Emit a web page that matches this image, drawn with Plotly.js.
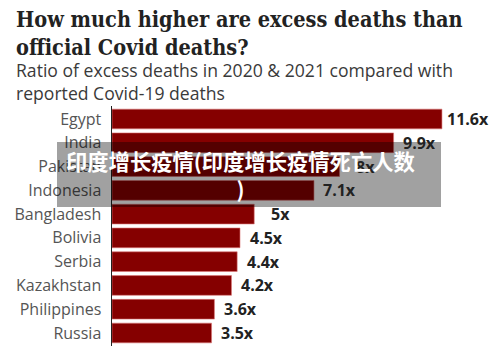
<!DOCTYPE html>
<html><head><meta charset="utf-8">
<script src="https://cdn.plot.ly/plotly-3.0.1.min.js"></script>
<style>html,body{margin:0;padding:0;background:#fff}#chart{width:500px;height:349px}</style>
</head><body><div id="chart"></div>
<script>
const countries = ["Egypt","India","Pakistan","Indonesia","Bangladesh","Bolivia","Serbia","Kazakhstan","Philippines","Russia"];
const ratios = [11.6, 9.9, 8, 7.1, 5, 4.5, 4.4, 4.2, 3.6, 3.5];
const ratioLabels = ["11.6x","9.9x","8x","7.1x","5x","4.5x","4.4x","4.2x","3.6x","3.5x"];
const titleText = "How much higher are excess deaths than<br>official Covid deaths?";
const subtitleText = "Ratio of excess deaths in 2020 & 2021 compared with<br>reported Covid-19 deaths";
const overlayText = "印度增长疫情(印度增长疫情死亡人数<br>)";

const W = 500, H = 349, L = 112, R = 4, T = 106, B = 3;
const pw = W - L - R, ph = H - T - B;
const px = x => (x - L) / pw;
const py = y => (H - B - y) / ph;

const labelAnn = countries.map((c, i) => ({
  x: ratios[i], y: c, xref: 'x', yref: 'y', text: ratioLabels[i], showarrow: false,
  xanchor: 'center', xshift: 26,
  font: {family: 'Open Sans, sans-serif', size: 16, color: '#222', weight: 700}
}));

const data = [{
  type: 'bar', orientation: 'h', x: ratios, y: countries,
  marker: {color: '#850000', line: {color: 'rgba(220,120,120,0.6)', width: 1}},
  hoverinfo: 'none'
}];

const layout = {
  width: W, height: H,
  margin: {l: L, r: R, t: T, b: B, pad: 0},
  paper_bgcolor: '#fff', plot_bgcolor: '#fff',
  showlegend: false, bargap: 0.17,
  xaxis: {range: [0, 13.5], showgrid: false, zeroline: false, showticklabels: false, showline: false, fixedrange: true},
  yaxis: {autorange: 'reversed', showgrid: false, zeroline: false, showline: true, linecolor: '#222', linewidth: 1.5,
    ticks: '', ticklabelstandoff: 6,
    tickfont: {family: 'Open Sans, sans-serif', size: 16, color: '#555'}},
  shapes: [{type: 'rect', xref: 'paper', yref: 'paper', x0: px(57), x1: px(441), y0: py(207), y1: py(142),
    fillcolor: 'rgba(0,0,0,0.37)', line: {width: 0}, layer: 'above'}],
  annotations: [
    {xref: 'paper', yref: 'paper', x: px(14), y: py(5), xanchor: 'left', yanchor: 'top', align: 'left', showarrow: false,
      text: titleText, font: {family: 'DejaVu Serif Condensed, DejaVu Serif, serif', size: 21.5, color: '#222', weight: 700}},
    {xref: 'paper', yref: 'paper', x: px(14), y: py(56), xanchor: 'left', yanchor: 'top', align: 'left', showarrow: false,
      text: subtitleText, font: {family: 'Open Sans, sans-serif', size: 17.6, color: '#3a3a3a'}},
    ...labelAnn,
    {xref: 'paper', yref: 'paper', x: px(240), y: py(174), xanchor: 'center', yanchor: 'middle', align: 'center', showarrow: false,
      text: overlayText, font: {family: 'Noto Sans CJK SC, sans-serif', size: 21.3, color: '#fff', weight: 700}}
  ]
};
Plotly.newPlot('chart', data, layout, {displayModeBar: false, staticPlot: true});
</script></body></html>
